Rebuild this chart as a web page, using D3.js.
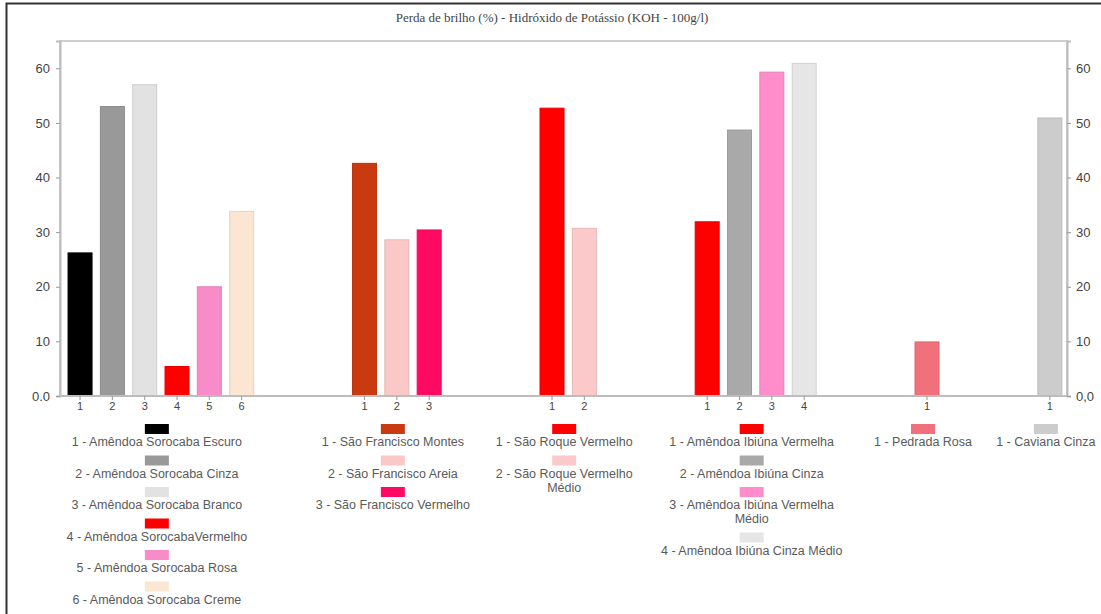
<!DOCTYPE html>
<html>
<head>
<meta charset="utf-8">
<script src="https://cdn.jsdelivr.net/npm/d3@7/dist/d3.min.js"></script>
<style>
  html, body { margin: 0; padding: 0; background: #ffffff; }
  svg { display: block; }
</style>
</head>
<body>
<svg id="chart" width="1101" height="614"></svg>
<script>
// ---- data ----
const titleText = "Perda de brilho (%) - Hidróxido de Potássio (KOH - 100g/l)";
const barGroup = [0,0,0,0,0,0, 1,1,1, 2,2, 3,3,3,3, 4, 5];
const barTickLabels = ["1","2","3","4","5","6", "1","2","3", "1","2", "1","2","3","4", "1", "1"];
const barValues = [26.2, 53.0, 57.0, 5.4, 20.0, 33.8,
                   42.6, 28.6, 30.4,
                   52.7, 30.7,
                   31.9, 48.7, 59.3, 60.9,
                   9.9,
                   50.9];
const barColors = ["#000000","#999999","#e2e2e2","#ff0000","#f78cc8","#fbe6d4",
                   "#c93a10","#fbc8c8","#ff0a62",
                   "#ff0000","#fbc9c9",
                   "#ff0000","#a9a9a9","#ff8ccb","#e6e6e6",
                   "#f0707c",
                   "#cccccc"];
const legendLabels = [
  "1 - Amêndoa Sorocaba Escuro","2 - Amêndoa Sorocaba Cinza","3 - Amêndoa Sorocaba Branco",
  "4 - Amêndoa SorocabaVermelho","5 - Amêndoa Sorocaba Rosa","6 - Amêndoa Sorocaba Creme",
  "1 - São Francisco Montes","2 - São Francisco Areia","3 - São Francisco Vermelho",
  "1 - São Roque Vermelho","2 - São Roque Vermelho|Médio",
  "1 - Amêndoa Ibiúna Vermelha","2 - Amêndoa Ibiúna Cinza","3 - Amêndoa Ibiúna Vermelha|Médio","4 - Amêndoa Ibiúna Cinza Médio",
  "1 - Pedrada Rosa",
  "1 - Caviana Cinza"
];
const yTicks = [0, 10, 20, 30, 40, 50, 60];

// ---- layout ----
const svg = d3.select("#chart");
const plot = { left: 60, right: 1067, top: 41, bottom: 396 };
const groupGap = 2.8;
const pos = barValues.map((v, i) => i + barGroup[i] * groupGap);
const x = d3.scaleLinear().domain([-0.62, pos[pos.length - 1] + 0.53]).range([plot.left, plot.right]);
const y = d3.scaleLinear().domain([0, 65]).range([plot.bottom, plot.top]);
const barW = 24;

// outer frame
svg.append("rect").attr("x", 6.5).attr("y", 3.5).attr("width", 1200).attr("height", 700)
  .attr("fill", "none").attr("stroke", "#333").attr("stroke-width", 2);

// title
svg.append("text").attr("x", 552).attr("y", 22).attr("text-anchor", "middle")
  .attr("font-family", "Liberation Serif, serif").attr("font-size", 13).attr("fill", "#444")
  .text(titleText);

// plot frame
svg.append("rect").attr("x", plot.left).attr("y", plot.top)
  .attr("width", plot.right - plot.left).attr("height", plot.bottom - plot.top)
  .attr("fill", "none").attr("stroke", "#cfcfcf").attr("stroke-width", 2);

// bars
svg.append("g").selectAll("rect").data(barValues).join("rect")
  .attr("x", (d, i) => x(pos[i]) - barW / 2)
  .attr("y", d => y(d))
  .attr("width", barW)
  .attr("height", d => y(0) - y(d))
  .attr("fill", (d, i) => barColors[i])
  .attr("stroke", (d, i) => d3.color(barColors[i]).darker(0.25))
  .attr("stroke-width", 1);

// y axes
const fmtL = d => d === 0 ? "0.0" : String(d);
const fmtR = d => d === 0 ? "0,0" : String(d);
const yl = svg.append("g").attr("transform", `translate(${plot.left},0)`)
  .call(d3.axisLeft(y).tickValues(yTicks).tickFormat(fmtL).tickSize(4).tickPadding(6));
const yr = svg.append("g").attr("transform", `translate(${plot.right},0)`)
  .call(d3.axisRight(y).tickValues(yTicks).tickFormat(fmtR).tickSize(4).tickPadding(5));
[yl, yr].forEach(g => {
  g.select(".domain").attr("stroke", "#bdbdbd").attr("stroke-width", 2);
  g.selectAll(".tick line").attr("stroke", "#999");
  g.selectAll("text").attr("font-family", "Liberation Sans, Arial, sans-serif")
    .attr("font-size", 13).attr("fill", "#444");
});

// x ticks
const xg = svg.append("g").attr("transform", `translate(0,${plot.bottom})`);
xg.append("line").attr("x1", plot.left).attr("x2", plot.right).attr("stroke", "#bdbdbd").attr("stroke-width", 2);
const xt = xg.selectAll("g.xt").data(barTickLabels).join("g").attr("class", "xt")
  .attr("transform", (d, i) => `translate(${x(pos[i])},0)`);
xt.append("line").attr("y1", 0).attr("y2", 4).attr("stroke", "#999");
xt.append("text").attr("y", 14).attr("text-anchor", "middle")
  .attr("font-family", "Liberation Sans, Arial, sans-serif").attr("font-size", 11).attr("fill", "#444")
  .text(d => d);

// legends per group
const groups = d3.groups(barValues.map((v, i) => i), i => barGroup[i]);
const lg = svg.append("g");
groups.forEach(([g, idxs]) => {
  const cx = (x(pos[idxs[0]]) + x(pos[idxs[idxs.length - 1]])) / 2 - 4;
  let yy = 424;
  idxs.forEach(i => {
    lg.append("rect").attr("x", cx - 12).attr("y", yy).attr("width", 24).attr("height", 10)
      .attr("fill", barColors[i]);
    const lines = legendLabels[i].split("|");
    const t = lg.append("text").attr("text-anchor", "middle")
      .attr("font-family", "Liberation Sans, Arial, sans-serif").attr("font-size", 12.5).attr("fill", "#5a5a5a");
    lines.forEach((ln, k) => {
      t.append("tspan").attr("x", cx).attr("y", yy + 22 + k * 14).text(ln);
    });
    yy += 31.5 + (lines.length - 1) * 14;
  });
});
</script>
</body>
</html>
